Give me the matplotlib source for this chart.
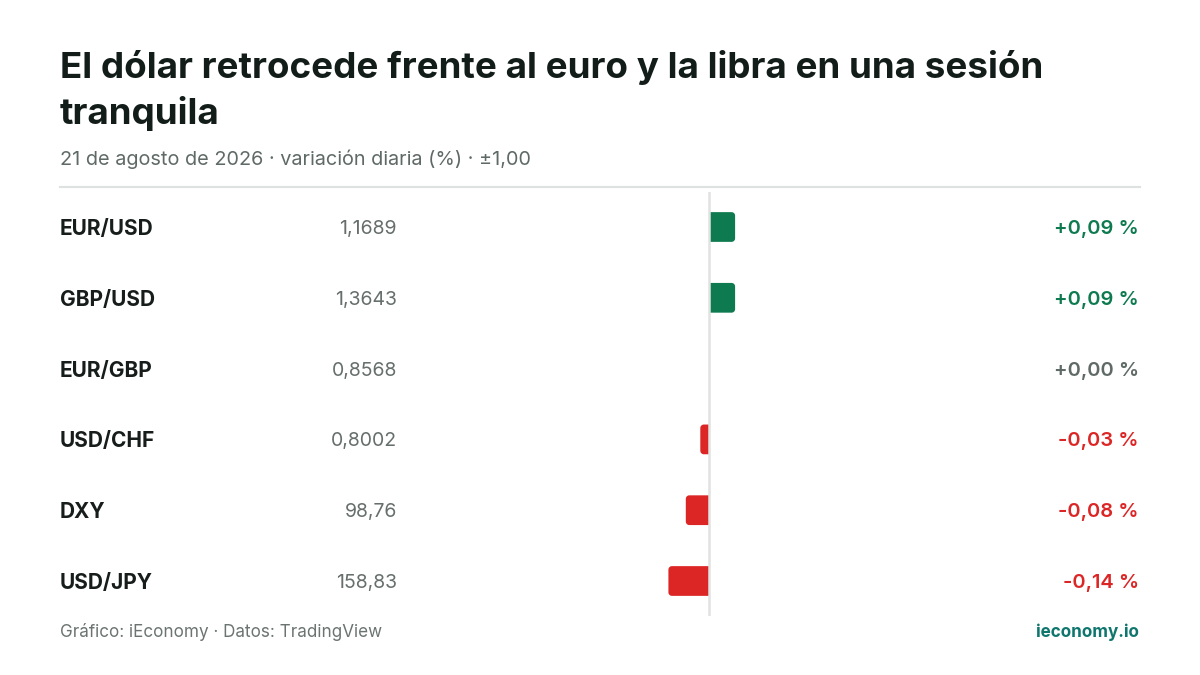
import math
import matplotlib
matplotlib.use("Agg")
import matplotlib.pyplot as plt
import matplotlib.transforms as mtransforms
from matplotlib.patches import Polygon

plt.rcParams['font.family'] = ['Inter', 'DejaVu Sans']

# data
pairs = ["EUR/USD", "GBP/USD", "EUR/GBP", "USD/CHF", "DXY", "USD/JPY"]
prices = ["1,1689", "1,3643", "0,8568", "0,8002", "98,76", "158,83"]
changes = [0.09, 0.09, 0.00, -0.03, -0.08, -0.14]
scale_max = 1.00

title_lines = ["El dólar retrocede frente al euro y la libra en una sesión",
               "tranquila"]
subtitle = "21 de agosto de 2026 · variación diaria (%) · ±1,00"
source = "Gráfico: iEconomy · Datos: TradingView"
brand = "ieconomy.io"

GREEN = "#0e7a4f"
RED = "#dc2626"
GREY = "#5f6a66"
DARK = "#121c19"

W, H = 1200, 675
fig = plt.figure(figsize=(12, 6.75), dpi=100)
fig.patch.set_facecolor("white")


def fx(px):
    return px / W


def fy(py):
    return 1 - py / H


def outer_rounded(x0, y0, w, h, rx, ry):
    # bar from x0 (zero line) to x0 + w, rounded only at the far end
    s = 1 if w > 0 else -1
    xe = x0 + w
    pts = [(x0, y0)]
    for k in range(9):
        a = math.pi / 2 * k / 8
        pts.append((xe - s * rx + s * rx * math.sin(a), y0 + ry - ry * math.cos(a)))
    for k in range(9):
        a = math.pi / 2 * k / 8
        pts.append((xe - s * rx + s * rx * math.cos(a), y0 + h - ry + ry * math.sin(a)))
    pts.append((x0, y0 + h))
    return pts


# bar axes: x from -1 to 1 maps to px 419..999, rows ~71px apart
row_h = 70.8
top_px = 227 - row_h / 2
bot_px = 227 + row_h * 5.5
ax = fig.add_axes([fx(419), fy(bot_px), fx(999) - fx(419), (bot_px - top_px) / H])
ax.set_xlim(-scale_max, scale_max)
ax.set_ylim(len(pairs) - 0.5, -0.5)
ax.axis("off")

ypos = list(range(len(pairs)))
colors = [GREEN if c > 0 else RED if c < 0 else GREY for c in changes]
bars = ax.barh(ypos, changes, height=0.42, color=colors, zorder=2)

# swap the plain bars for ones rounded only at the outer end
px_x = 580 / (2 * scale_max)
rx, ry = 3.5 / px_x, 3.5 / row_h
for b in bars:
    x0, y0, w, h = b.get_x(), b.get_y(), b.get_width(), b.get_height()
    fc = b.get_facecolor()
    b.remove()
    if w == 0:
        continue
    ax.add_patch(Polygon(outer_rounded(x0, y0, w, h, rx, ry), closed=True,
                         fc=fc, ec="none", zorder=2))

ax.axvline(0, color="#e0e3e2", lw=1.8, zorder=3)

tr = mtransforms.blended_transform_factory(fig.transFigure, ax.transData)
dy = 2 / row_h
for i, (p, v, c, col) in enumerate(zip(pairs, prices, changes, colors)):
    ax.text(fx(60), i + dy, p, transform=tr, ha="left", va="center",
            fontsize=15, fontweight="bold", color="#161d1b")
    ax.text(fx(397), i + dy, v, transform=tr, ha="right", va="center",
            fontsize=14, color="#666f6c")
    lab = ("+" if c >= 0 else "-") + f"{abs(c):.2f}".replace(".", ",") + " %"
    ax.text(fx(1139), i + dy, lab, transform=tr, ha="right", va="center",
            fontsize=14.5, fontweight="semibold", color=col)

fig.text(fx(60), fy(78), title_lines[0], ha="left", va="baseline",
         fontsize=26.5, fontweight="bold", color=DARK)
fig.text(fx(60), fy(124), title_lines[1], ha="left", va="baseline",
         fontsize=26.5, fontweight="bold", color=DARK)
fig.text(fx(60), fy(165), subtitle, ha="left", va="baseline", fontsize=14.3,
         color=GREY)
fig.add_artist(plt.Line2D([fx(60), fx(1140)], [fy(187), fy(187)],
                          color="#dde1df", lw=1.5))

fig.text(fx(60), fy(637), source, ha="left", va="baseline", fontsize=12.3,
         color="#6b7470")
fig.text(fx(1139), fy(637), brand, ha="right", va="baseline", fontsize=12.3,
         fontweight="bold", color="#0f766e")

fig.savefig("out.png", dpi=100, facecolor="white")
